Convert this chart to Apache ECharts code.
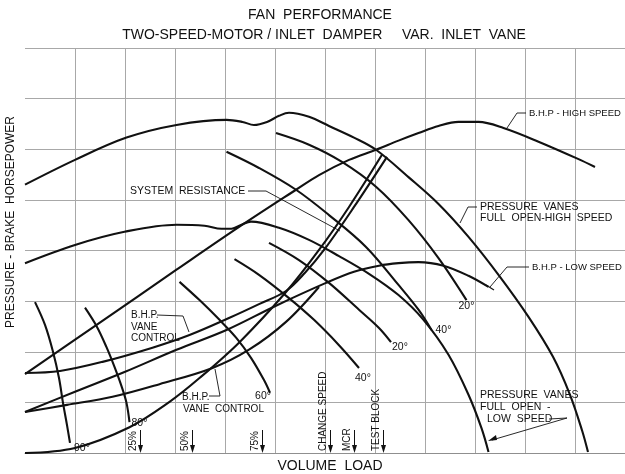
<!DOCTYPE html>
<html>
<head>
<meta charset="utf-8">
<script src="https://cdn.jsdelivr.net/npm/echarts@6/dist/echarts.min.js"></script>
<style>
  html, body { margin: 0; padding: 0; background: #fff; }
  #chart { width: 625px; height: 474px; }
</style>
</head>
<body>
<div id="chart"></div>
<script>
// Volume load (x, grid units) against pressure / brake horsepower (y, grid units)

// Full-open pressure curves
const pressureHigh = [[0,5.30],[1.00,5.79],[2.03,6.23],[3.03,6.48],[4.03,6.58],[4.35,6.54],[4.58,6.48],[4.84,6.54],[5.08,6.66],[5.28,6.72],[5.68,6.64],[6.08,6.46],[6.58,6.23],[7.02,5.99],[7.67,5.45],[8.27,4.92],[8.87,4.27],[9.47,3.52],[10.07,2.69],[10.56,1.90],[10.90,1.15],[11.14,0.45],[11.26,0.02]];
const pressureLow = [[0,3.75],[1.00,4.11],[1.99,4.37],[3.03,4.51],[3.59,4.49],[3.93,4.43],[4.13,4.43],[4.33,4.51],[4.52,4.57],[5.08,4.45],[5.68,4.21],[6.28,3.89],[6.88,3.54],[7.47,3.12],[7.97,2.63],[8.47,1.94],[8.87,1.15],[9.13,0.49],[9.27,0.02]];

// Brake horsepower curves
const bhpHigh = [[0,1.56],[1.49,2.57],[3.03,3.62],[4.29,4.47],[5.42,5.20],[5.88,5.49],[6.48,5.79],[7.02,5.99],[7.47,6.17],[7.87,6.32],[8.27,6.46],[8.67,6.54],[9.07,6.54],[9.57,6.42],[10.27,6.15],[11.06,5.81],[11.40,5.65]];
const bhpLow = [[0,0.81],[1.00,1.21],[1.99,1.60],[3.03,2.04],[4.03,2.43],[5.02,2.91],[6.02,3.36],[6.58,3.58],[7.08,3.70],[7.47,3.75],[7.87,3.77],[8.37,3.70],[8.87,3.50],[9.27,3.28]];

// Brake horsepower under vane control
const bhpVaneHigh = [[0,1.58],[0.70,1.62],[1.55,1.80],[2.55,2.08],[3.29,2.33],[4.09,2.67],[4.68,2.94],[5.22,3.20],[5.60,3.56],[5.98,4.01],[6.58,4.86],[7.24,5.85]];
const bhpVaneLow = [[0,0.81],[0.84,0.95],[1.75,1.11],[2.69,1.36],[3.75,1.68],[4.48,2.04],[5.22,2.59],[5.88,3.28]];

// System resistance
const systemResistance = [[0,0],[1.00,0.10],[2.09,0.51],[2.89,1.01],[3.49,1.48],[4.29,2.19],[5.22,3.18],[5.88,4.01],[6.48,4.86],[7.14,5.89]];

// Inlet vane positions
const vane90 = [[0.20,2.98],[0.40,2.53],[0.56,2.00],[0.68,1.48],[0.76,0.99],[0.84,0.55],[0.90,0.20]];
const vane80 = [[1.20,2.87],[1.44,2.49],[1.63,2.09],[1.79,1.70],[1.93,1.32],[2.03,0.99],[2.09,0.61]];
const vane60 = [[3.09,3.38],[3.49,3.02],[3.89,2.63],[4.23,2.27],[4.52,1.88],[4.78,1.44],[4.90,1.19]];
const vane40Low = [[4.19,3.83],[4.68,3.52],[5.28,3.06],[5.78,2.63],[6.28,2.13],[6.68,1.68]];
const vane20Low = [[4.88,4.15],[5.48,3.81],[6.08,3.36],[6.68,2.83],[7.08,2.47],[7.32,2.19]];
const vane40High = [[4.03,5.95],[4.68,5.63],[5.42,5.20],[6.08,4.70],[6.82,4.07],[7.47,3.32],[7.87,2.83],[8.13,2.43]];
const vane20High = [[5.02,6.32],[5.68,6.09],[6.34,5.75],[7.02,5.26],[7.67,4.60],[8.27,3.85],[8.83,3.02]];

// Vane angle tags, one per vane curve
const vaneCurves = [vane90, vane80, vane60, vane40Low, vane20Low, vane40High, vane20High];
const vaneTags = ['90°', '80°', '60°', '40°', '20°', '40°', '20°'];

// Load markers along the volume axis
const loadMarkLabels = ['25%', '50%', '75%', 'CHANGE SPEED', 'MCR', 'TEST BLOCK'];
const loadMarkValues = [2.29, 3.33, 4.74, 6.10, 6.58, 7.16];

// Axis ranges (grid squares)
const xTicks = [0, 12];
const yTicks = [0, 8];

const INK = '#111';
const FONT = '"Liberation Sans", Arial, sans-serif';

const chart = echarts.init(document.getElementById('chart'), null, { renderer: 'canvas' });

function curve(data, z) {
  return {
    type: 'line', data: data, smooth: 0.35, showSymbol: false, silent: true,
    lineStyle: { color: INK, width: 2.1 }, z: z || 3, animation: false
  };
}

chart.setOption({
  animation: false,
  backgroundColor: '#fff',
  grid: { left: 25, right: -2, top: 48, bottom: 21, containLabel: false },
  xAxis: {
    type: 'value', min: xTicks[0], max: xTicks[1], interval: 1,
    axisLabel: { show: false }, axisTick: { show: false },
    axisLine: { show: true, lineStyle: { color: '#8f8f8f', width: 1 } },
    splitLine: { show: true, showMinLine: false, lineStyle: { color: '#a8a8a8', width: 1 } }
  },
  yAxis: {
    type: 'value', min: yTicks[0], max: yTicks[1], interval: 1,
    axisLabel: { show: false }, axisTick: { show: false }, axisLine: { show: false },
    splitLine: { show: true, lineStyle: { color: '#a8a8a8', width: 1 } }
  },
  series: [
    curve(pressureHigh), curve(pressureLow),
    curve(bhpHigh), curve(bhpLow),
    curve(bhpVaneHigh), curve(bhpVaneLow),
    curve(systemResistance),
    curve(vane90), curve(vane80), curve(vane60),
    curve(vane40Low), curve(vane20Low), curve(vane40High), curve(vane20High)
  ]
});

function txt(s, x, y, size, opts) {
  opts = opts || {};
  return {
    type: 'text', x: x, y: y, rotation: opts.rotation || 0, z: 10, silent: true,
    style: {
      text: s, fill: INK, font: (size || 10) + 'px ' + FONT,
      align: opts.align || 'left', verticalAlign: opts.valign || 'middle'
    }
  };
}
function poly(points, w) {
  return { type: 'polyline', z: 9, silent: true, shape: { points: points },
           style: { stroke: INK, lineWidth: w || 0.9, fill: null } };
}
function tri(points) {
  return { type: 'polygon', z: 9, silent: true, shape: { points: points }, style: { fill: INK } };
}

const g = [];

// Titles and axis names
g.push(txt('FAN  PERFORMANCE', 320, 15, 14, { align: 'center' }));
g.push(txt('TWO-SPEED-MOTOR / INLET  DAMPER     VAR.  INLET  VANE', 324, 35, 14, { align: 'center' }));
g.push(txt('PRESSURE - BRAKE  HORSEPOWER', 11, 222, 12, { align: 'center', rotation: Math.PI / 2 }));
g.push(txt('VOLUME  LOAD', 330, 466, 14, { align: 'center' }));

// Curve call-outs
g.push(txt('SYSTEM  RESISTANCE', 130, 191, 10.5));
g.push(poly([[248, 191], [266, 191], [340, 231]]));

g.push(txt('B.H.P - HIGH SPEED', 529, 113, 9.5));
g.push(poly([[526, 113], [517, 113], [507, 128]]));

g.push(txt('PRESSURE  VANES', 480, 207, 10.5));
g.push(txt('FULL  OPEN-HIGH  SPEED', 480, 218, 10.5));
g.push(poly([[477, 207], [468, 207], [460, 223]]));

g.push(txt('B.H.P - LOW SPEED', 532, 267, 9.5));
g.push(poly([[529, 267], [507, 267], [490, 287]]));
g.push(poly([[486, 285], [494, 290]], 1.2));

g.push(txt('B.H.P.', 131, 315, 10));
g.push(txt('VANE', 131, 327, 10));
g.push(txt('CONTROL', 131, 338, 10));
g.push(poly([[157, 315], [183, 316], [189, 332]]));

g.push(txt('B.H.P.', 182, 397, 10));
g.push(txt('VANE  CONTROL', 183, 409, 10));
g.push(poly([[209, 396], [220, 396], [215, 369]]));

g.push(txt('PRESSURE  VANES', 480, 395, 10.5));
g.push(txt('FULL  OPEN  -', 480, 407, 10.5));
g.push(txt('LOW  SPEED', 487, 419, 10.5));
g.push(poly([[549, 419], [567, 418], [492, 440]]));
g.push(tri([[488, 441], [496, 435], [497, 440]]));

// Vane angle tags placed from each curve's last point
const tagOffsets = [[4, 5, 'left'], [2, 1, 'left'], [1, 3, 'right'], [-4, 10, 'left'], [1, 5, 'left'], [4, 0, 'left'], [-8, 6, 'left']];
vaneCurves.forEach(function (c, i) {
  const p = chart.convertToPixel({ gridIndex: 0 }, c[c.length - 1]);
  const o = tagOffsets[i];
  g.push(txt(vaneTags[i], p[0] + o[0], p[1] + o[1], 10.5, { align: o[2] }));
});

// Load markers: rotated label with a downward arrow onto the volume axis
loadMarkValues.forEach(function (v, i) {
  const p = chart.convertToPixel({ gridIndex: 0 }, [v, 0]);
  const x = Math.round(p[0]) + 0.5;
  g.push(txt(loadMarkLabels[i], x - 7, p[1] - 2, 10, { rotation: Math.PI / 2 }));
  g.push(poly([[x, p[1] - 23], [x, p[1] - 7]], 1));
  g.push(tri([[x - 2.5, p[1] - 8], [x + 2.5, p[1] - 8], [x, p[1]]]));
});

chart.setOption({ graphic: g });
</script>
</body>
</html>
